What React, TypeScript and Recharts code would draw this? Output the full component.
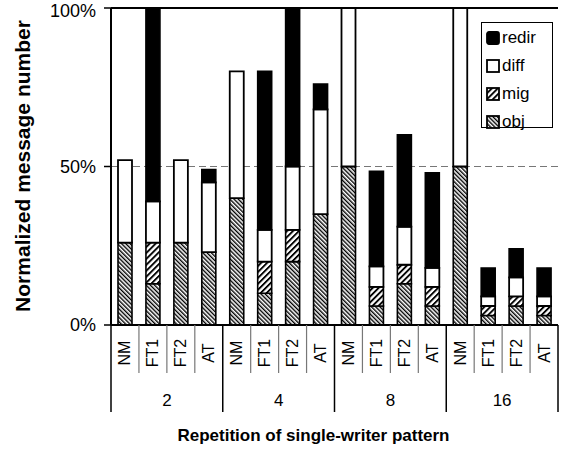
import React from 'react'
import {
  BarChart,
  Bar,
  XAxis,
  YAxis,
  CartesianGrid,
  ReferenceLine,
  Legend,
} from 'recharts'

const methods = [
  'NM', 'FT1', 'FT2', 'AT',
  'NM', 'FT1', 'FT2', 'AT',
  'NM', 'FT1', 'FT2', 'AT',
  'NM', 'FT1', 'FT2', 'AT',
]
const repetitions = [
  '2', '2', '2', '2',
  '4', '4', '4', '4',
  '8', '8', '8', '8',
  '16', '16', '16', '16',
]
const obj = [26, 13, 26, 23, 40, 10, 20, 35, 50, 6, 13, 6, 50, 3, 6, 3]
const mig = [0, 13, 0, 0, 0, 10, 10, 0, 0, 6, 6, 6, 0, 3, 3, 3]
const diff = [26, 13, 26, 22, 40, 10, 20, 33, 50, 6.5, 12, 6, 50, 3, 6, 3]
const redir = [0, 61, 0, 4, 0, 50, 50, 8, 0, 30, 29, 30, 0, 9, 9, 9]
const yTicks = [0, 50, 100]

const data = methods.map((m, i) => ({
  key: `${repetitions[i]}-${m}`,
  method: m,
  rep: repetitions[i],
  obj: obj[i],
  mig: mig[i],
  diff: diff[i],
  redir: redir[i],
}))

const FONT = '"Liberation Sans", Arial, Helvetica, sans-serif'
const W = 561
const H = 451
const LEFT = 111
const RIGHT_MARGIN = 3
const PLOT_W = W - LEFT - RIGHT_MARGIN
const BAND = PLOT_W / methods.length

const fills: Record<string, string> = {
  redir: '#000',
  diff: '#fff',
  mig: 'url(#hatchMig)',
  obj: 'url(#hatchObj)',
}

// two-level category axis: method labels + repetition groups
const MethodTick = (props: any) => {
  const { x, y, payload } = props
  const i = payload.index
  const left = x - BAND / 2
  return (
    <g>
      {i % 4 === 0 ? (
        <line x1={left} y1={y} x2={left} y2={y + 87} stroke="#000" strokeWidth={1.5} />
      ) : (
        <line x1={left} y1={y} x2={left} y2={y + 48} stroke="#777" strokeWidth={1.2} />
      )}
      {i === methods.length - 1 && (
        <line x1={x + BAND / 2} y1={y} x2={x + BAND / 2} y2={y + 87} stroke="#000" strokeWidth={1.5} />
      )}
      <text
        transform={`translate(${x + 5.5},${y + 28}) rotate(-90)`}
        textAnchor="middle"
        fontSize={16}
        fontFamily={FONT}
        fill="#000"
      >
        {methods[i]}
      </text>
      {i % 4 === 1 && (
        <text
          x={x + BAND / 2}
          y={y + 81}
          textAnchor="middle"
          fontSize={17}
          fontFamily={FONT}
          fill="#000"
        >
          {repetitions[i]}
        </text>
      )}
    </g>
  )
}

const PercentTick = (props: any) => {
  const { x, y, payload } = props
  // keep the top label inside the picture
  const shift = payload.value === 100 ? 3 : 0
  return (
    <text x={x} y={y + shift} dy="0.355em" textAnchor="end" fontSize={18} fontFamily={FONT} fill="#000">
      {`${payload.value}%`}
    </text>
  )
}

const LegendBox = () => {
  const items = ['redir', 'diff', 'mig', 'obj']
  return (
    <div
      style={{
        boxSizing: 'border-box',
        border: '1.5px solid #000',
        background: '#fff',
        width: 72,
        height: 106,
        padding: '1px 0 0 4px',
        fontFamily: FONT,
        fontSize: 17,
        lineHeight: '28px',
      }}
    >
      {items.map((name) => (
        <div key={name} style={{ display: 'flex', alignItems: 'center', height: 28 }}>
          <svg width={14} height={14} style={{ marginRight: 2 }}>
            <rect x={1} y={1} width={12} height={12} rx={name === 'redir' ? 2 : 0} fill={fills[name]} stroke="#000" strokeWidth={1.8} />
          </svg>
          <span>{name}</span>
        </div>
      ))}
    </div>
  )
}

export default function App() {
  return (
    <div style={{ position: 'absolute', left: 0, top: 0, width: W, height: H, background: '#fff' }}>
      <BarChart
        width={W}
        height={H}
        data={data}
        margin={{ top: 8, right: RIGHT_MARGIN, bottom: 0, left: 0 }}
        barSize={14}
      >
        <defs>
          <pattern id="hatchObj" patternUnits="userSpaceOnUse" width={3} height={3} patternTransform="rotate(-45)">
            <rect x={0} y={0} width={3} height={3} fill="#fff" />
            <rect x={0} y={0} width={1.4} height={3} fill="#000" />
          </pattern>
          <pattern id="hatchMig" patternUnits="userSpaceOnUse" width={4.2} height={4.2} patternTransform="rotate(45)">
            <rect x={0} y={0} width={4.2} height={4.2} fill="#fff" />
            <rect x={0} y={0} width={1.9} height={4.2} fill="#000" />
          </pattern>
        </defs>
        <CartesianGrid vertical={false} stroke="#777" strokeDasharray="7 4" strokeWidth={1.2} />
        <XAxis
          dataKey="key"
          height={126}
          interval={0}
          tickLine={false}
          tickSize={0}
          tickMargin={0}
          axisLine={{ stroke: '#000', strokeWidth: 2 }}
          tick={<MethodTick />}
          label={(p: any) => {
            const vb = p.viewBox
            return (
              <text
                x={vb.x + vb.width / 2 - 21}
                y={vb.y + 116}
                textAnchor="middle"
                fontSize={17}
                fontWeight="bold"
                fontFamily={FONT}
                fill="#000"
              >
                Repetition of single-writer pattern
              </text>
            )
          }}
        />
        <YAxis
          width={LEFT}
          domain={[0, 100]}
          ticks={yTicks}
          interval={0}
          tickSize={7}
          tickMargin={8}
          tickLine={{ stroke: '#000', strokeWidth: 1.5 }}
          axisLine={{ stroke: '#000', strokeWidth: 2 }}
          tick={<PercentTick />}
          label={() => (
            <text
              transform="translate(30,166) rotate(-90)"
              textAnchor="middle"
              fontSize={21}
              fontWeight="bold"
              fontFamily={FONT}
              fill="#000"
            >
              Normalized message number
            </text>
          )}
        />
        <YAxis
          yAxisId="frame"
          orientation="right"
          width={0}
          domain={[0, 100]}
          tick={false}
          tickLine={false}
          axisLine={{ stroke: '#555', strokeWidth: 1.2, strokeDasharray: '5 2' }}
        />
        <ReferenceLine y={100} stroke="#000" strokeWidth={2} />
        <Bar dataKey="obj" stackId="s" fill={fills.obj} stroke="#000" strokeWidth={1.6} isAnimationActive={false} />
        <Bar dataKey="mig" stackId="s" fill={fills.mig} stroke="#000" strokeWidth={1.6} isAnimationActive={false} />
        <Bar dataKey="diff" stackId="s" fill={fills.diff} stroke="#000" strokeWidth={1.8} isAnimationActive={false} />
        <Bar dataKey="redir" stackId="s" fill={fills.redir} stroke="#000" strokeWidth={1.6} isAnimationActive={false} />
        <Legend
          layout="horizontal"
          align="center"
          verticalAlign="middle"
          wrapperStyle={{ left: 481, top: 22, width: 72, height: 'auto' }}
          content={() => <LegendBox />}
        />
      </BarChart>
    </div>
  )
}
